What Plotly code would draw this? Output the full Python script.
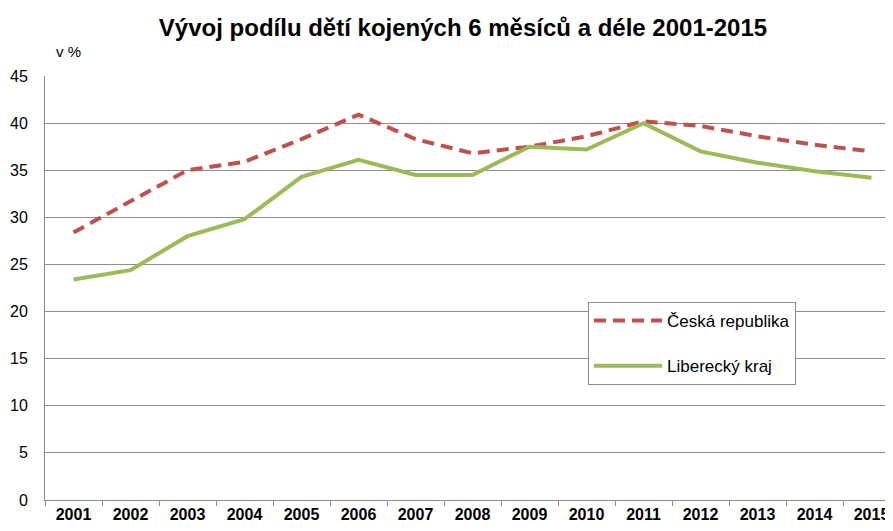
import plotly.graph_objects as go

years = ["2001", "2002", "2003", "2004", "2005", "2006", "2007", "2008",
         "2009", "2010", "2011", "2012", "2013", "2014", "2015"]
cr_values = [28.4, 31.7, 35.0, 35.9, 38.3, 40.9, 38.3, 36.8,
             37.5, 38.6, 40.2, 39.7, 38.6, 37.7, 37.0]
lk_values = [23.4, 24.4, 28.0, 29.8, 34.3, 36.1, 34.5, 34.5,
             37.5, 37.2, 40.0, 37.0, 35.8, 34.9, 34.2]
series_names = ["Česká republika", "Liberecký kraj"]
y_ticks = [0, 5, 10, 15, 20, 25, 30, 35, 40, 45]
title_text = "Vývoj podílu dětí kojených 6 měsíců a déle 2001-2015"
unit_text = "v %"

# the page body has an 8px margin, so the figure is laid out 8px smaller
W, H = 885, 523

fig = go.Figure()
fig.add_trace(go.Scatter(
    x=years, y=cr_values, name=series_names[0], mode="lines",
    line=dict(color="#C0504D", width=4, dash="12px,7px"),
    legendgroup="a"))
fig.add_trace(go.Scatter(
    x=years, y=lk_values, name=series_names[1], mode="lines",
    line=dict(color="#9BBB59", width=4),
    legendgroup="b"))

fig.update_layout(
    width=W, height=H,
    margin=dict(l=37, r=0, t=68, b=31, autoexpand=False),
    paper_bgcolor="white", plot_bgcolor="white",
    title=dict(text="<b>" + title_text + "</b>", x=455 / W, xref="container",
               y=1 - 20 / H, yref="container", xanchor="center", yanchor="middle",
               font=dict(family="Liberation Sans, Arial", size=24, color="#000000")),
    font=dict(family="Liberation Sans, Arial", color="#000000"),
    legend=dict(x=(580 - 37) / 848, y=(492 - 294) / 424, xanchor="left", yanchor="top",
                bgcolor="white", bordercolor="#8c8c8c", borderwidth=1,
                font=dict(size=17, color="#000000"),
                tracegroupgap=20, itemwidth=68),
    showlegend=True,
)
fig.update_xaxes(
    type="category", range=[-0.5, 14.377],
    tickson="boundaries", ticks="outside", ticklen=5, tickcolor="#8c8c8c",
    showline=True, linecolor="#8c8c8c", linewidth=1,
    showgrid=False, zeroline=False,
    tickfont=dict(family="Liberation Sans Narrow, Liberation Sans, Arial", size=16, color="#000000"),
    tickprefix="<b>", ticksuffix="</b>",
)
fig.update_yaxes(
    range=[0, 45], tickvals=y_ticks, ticktext=[str(v) for v in y_ticks],
    showgrid=True, gridcolor="#8c8c8c", gridwidth=1,
    showline=True, linecolor="#8c8c8c", linewidth=1,
    ticks="", zeroline=False, ticklabelstandoff=13,
    tickfont=dict(family="Liberation Sans, Arial", size=16, color="#000000"),
)
fig.add_annotation(text=unit_text, xref="paper", yref="paper",
                   x=(46 - 37) / 848, y=1 + 25 / 424, xanchor="left", yanchor="middle",
                   showarrow=False, font=dict(size=15, color="#000000"))

fig.write_html("out.html")
